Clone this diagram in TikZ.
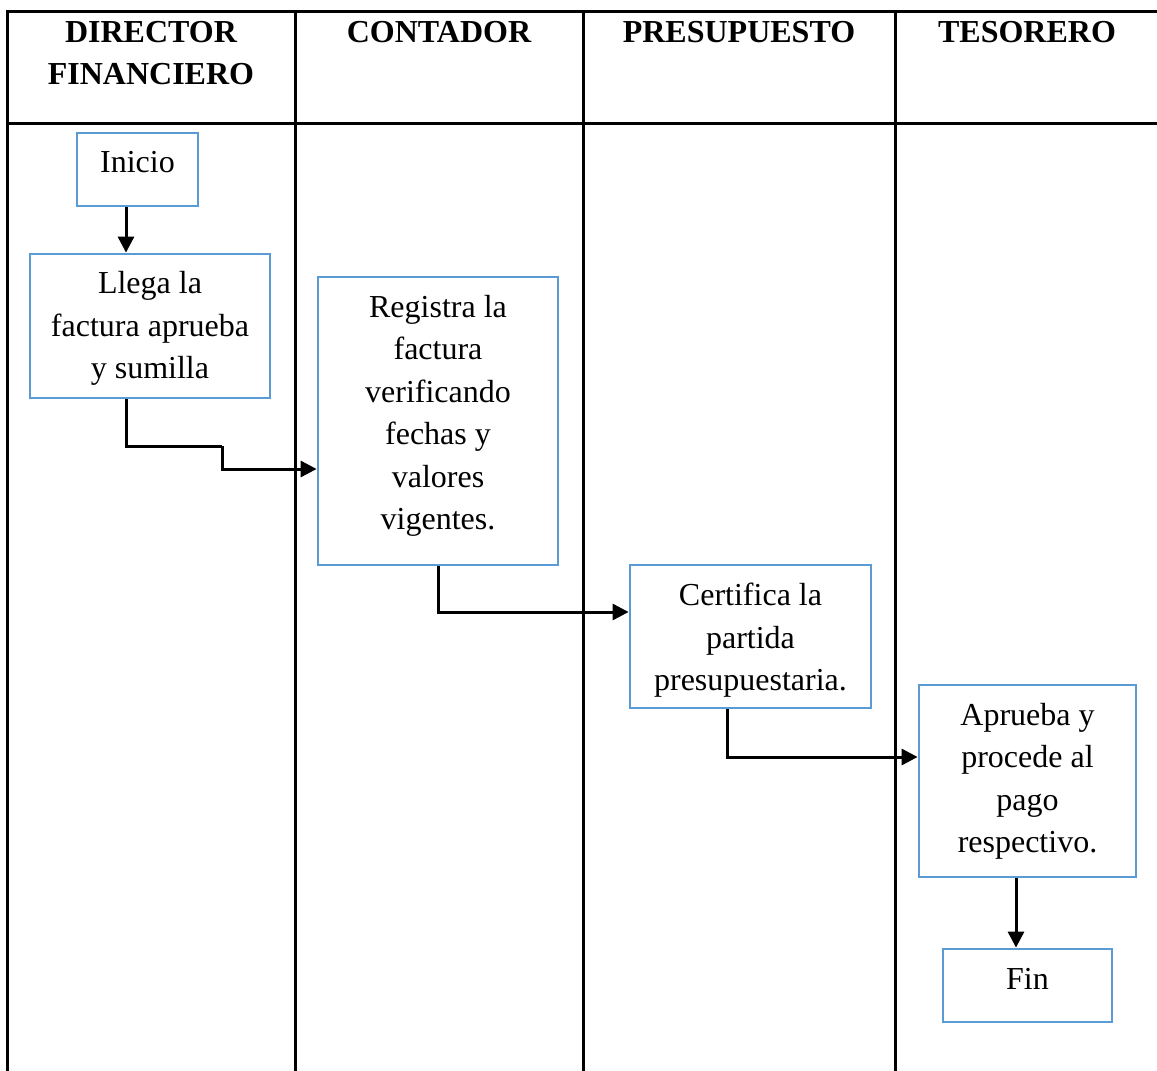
\documentclass[tikz,border=0pt]{standalone}
\usepackage{fontspec}
\setmainfont{Liberation Serif}
\usetikzlibrary{arrows.meta}
\definecolor{boxblue}{RGB}{91,155,213}
\begin{document}
\begin{tikzpicture}[x=1pt,y=-1pt,
  grid/.style={line width=3pt,black},
  hdr/.style={font=\fontsize{32}{42.5}\selectfont\bfseries,inner sep=0pt,align=center},
  box/.style={draw=boxblue,line width=2.8pt,fill=white,inner sep=0pt},
  txt/.style={font=\fontsize{32}{42.5}\selectfont,inner sep=0pt,align=center,anchor=north},
  arr/.style={line width=3pt,-{Triangle[length=16pt,width=16pt]}},
  conn/.style={line width=3pt}]
\useasboundingbox (0,0) rectangle (1157,1071);
% table grid
\draw[grid] (7,1071) -- (7,11) -- (1157,11);
\draw[grid] (7,123) -- (1157,123);
\draw[grid] (295,11) -- (295,1071);
\draw[grid] (583,11) -- (583,1071);
\draw[grid] (895,11) -- (895,1071);
% headers
\node[hdr,anchor=north] (h1) at (151,20.8) {DIRECTOR\\FINANCIERO};
\node[hdr,anchor=base] (h2) at (439,42) {CONTADOR};
\node[hdr,anchor=base] (h3) at (739,42) {PRESUPUESTO};
\node[hdr,anchor=base] (h4) at (1027,42) {TESORERO};
% boxes
\node[box,minimum width=121,minimum height=73] (inicio) at (137.5,169.5) {};
\node[box,minimum width=240,minimum height=144] (llega) at (150,326) {};
\node[box,minimum width=240,minimum height=288] (registra) at (438,421) {};
\node[box,minimum width=241,minimum height=143] (certifica) at (750.5,636.5) {};
\node[box,minimum width=217,minimum height=192] (aprueba) at (1027.5,781) {};
\node[box,minimum width=169,minimum height=73] (fin) at (1027.5,985.5) {};
% box texts
\node[txt] (t-inicio) at (inicio.center |- 0,151.3) {Inicio};
\node[txt] (t-llega) at (llega.center |- 0,271.3) {Llega la\\factura aprueba\\y sumilla};
\node[txt] (t-registra) at (registra.center |- 0,294.7) {Registra la\\factura\\verificando\\fechas y\\valores\\vigentes.};
\node[txt] (t-certifica) at (certifica.center |- 0,583) {Certifica la\\partida\\presupuestaria.};
\node[txt] (t-aprueba) at (aprueba.center |- 0,703) {Aprueba y\\procede al\\pago\\respectivo.};
\node[txt] (t-fin) at (fin.center |- 0,968) {Fin};
% connectors
\draw[arr] ([xshift=-11.5]inicio.south) -- ([xshift=-11.5]inicio.south |- llega.north);
\coordinate (b1) at (222,446);
\draw[conn] ([xshift=-24]llega.south) |- (b1);
\draw[arr] (b1) |- ([yshift=-48]registra.west);
\draw[arr] (registra.south) |- ([yshift=24.5]certifica.west);
\draw[arr] ([xshift=-23.5]certifica.south) |- ([yshift=24]aprueba.west);
\draw[arr] ([xshift=-11.5]aprueba.south) -- ([xshift=-11.5]aprueba.south |- fin.north);
\end{tikzpicture}
\end{document}
